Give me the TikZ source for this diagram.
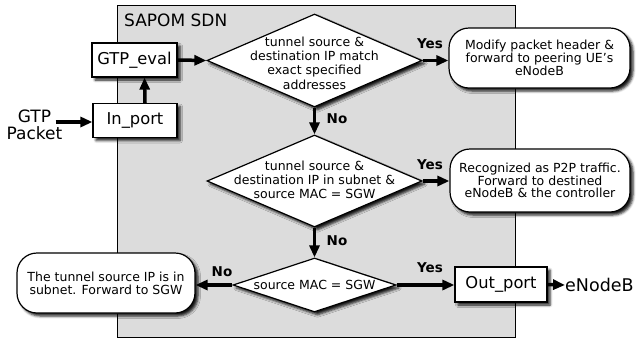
\documentclass[tikz,border=0pt]{standalone}
\usepackage{fontspec}
\setmainfont{DejaVu Sans}
\usetikzlibrary{shapes.geometric,arrows.meta,shadows.blur}
\definecolor{sdngray}{HTML}{DCDCDC}
\begin{document}
\begin{tikzpicture}[x=1pt,y=-1pt,
 shad/.style={blur shadow={shadow xshift=3pt,shadow yshift=-3pt,shadow blur radius=2.5pt,shadow opacity=90}},
 box/.style={draw,fill=white,line width=1.2pt,shad,inner sep=0pt,font=\fontsize{16.3}{19}\selectfont},
 rbox/.style={draw,fill=white,line width=1.2pt,shad,rounded corners=20pt,inner sep=0pt,align=center,font=\fontsize{12.5}{12.7}\selectfont},
 dia/.style={diamond,draw,fill=white,line width=1.2pt,shad,inner sep=0pt},
 dtext/.style={align=center,font=\fontsize{12.5}{14.3}\selectfont,inner sep=0pt},
 arr/.style={line width=3.5pt,-{Triangle[length=12pt,width=10pt]}},
 lab/.style={font=\bfseries\fontsize{13.5}{16}\selectfont,inner sep=0pt}
]
\useasboundingbox (0,0) rectangle (637,341);
\node[draw,fill=sdngray,line width=1.2pt,minimum width=398pt,minimum height=332pt,anchor=north west,inner sep=0pt] (sdn) at (117,5) {};
\node[anchor=west,font=\fontsize{17}{20}\selectfont,inner sep=0pt] (title) at (124,20) {SAPOM SDN};

\node[box,minimum width=85pt,minimum height=34pt] (eval) at (134.5,60) {GTP\_eval};
\node[box,minimum width=84pt,minimum height=34pt] (inport) at (135,120.5) {In\_port};
\node[align=center,font=\fontsize{17}{17}\selectfont,inner sep=0pt] (gtp) at (34.5,125) {GTP\\Packet};

\node[dia,minimum width=215pt,minimum height=93pt] (d1) at (314.5,60.5) {};
\node[dtext] (t1) at (314.5,63) {tunnel source \&\\destination IP match\\exact specified\\addresses};
\node[dia,minimum width=215pt,minimum height=92pt] (d2) at (314.5,181) {};
\node[dtext] (t2) at (314.5,180) {tunnel source \&\\destination IP in subnet \&\\source MAC = SGW};
\node[dia,minimum width=163pt,minimum height=54pt] (d3) at (314.5,285) {};
\node[dtext] (t3) at (314.5,285) {source MAC = SGW};

\node[rbox,minimum width=181pt,minimum height=60pt] (r1) at (539.5,58) {Modify packet header \&\\forward to peering UE’s\\eNodeB};
\node[rbox,minimum width=180pt,minimum height=63pt] (r2) at (540,180.5) {Recognized as P2P traffic.\\Forward to destined\\eNodeB \& the controller};
\node[rbox,minimum width=178pt,minimum height=60pt] (r3) at (106,283) {The tunnel source IP is in\\subnet. Forward to SGW};

\node[box,minimum width=92pt,minimum height=35pt] (out) at (501,284.5) {Out\_port};
\node[anchor=west,font=\fontsize{17.5}{20}\selectfont,inner sep=0pt] (enb) at (565,285) {eNodeB};

\draw[arr] ([xshift=-7pt]gtp.east |- 0,122) -- (inport.west |- 0,122);
\draw[arr] ([xshift=10pt]inport.north) -- ([xshift=10pt]eval.south);
\draw[arr] (eval.east) -- (d1.west);
\draw[arr] (d1.east) -- (d1.east -| r1.west);
\draw[arr] (d1.south) -- (d2.north);
\draw[arr] (d2.east) -- (d2.east -| r2.west);
\draw[arr] (d2.south) -- (d3.north);
\draw[arr] (d3.east) -- (d3.east -| out.west);
\draw[arr] (d3.west) -- (d3.west -| r3.east);
\draw[arr] (out.east) -- (enb.west);

\node[lab] (y1) at (430,44) {Yes};
\node[lab] (y2) at (430,165) {Yes};
\node[lab] (y3) at (430,268) {Yes};
\node[lab] (n1) at (337,119) {No};
\node[lab] (n2) at (337,241) {No};
\node[lab] (n3) at (222,272) {No};
\end{tikzpicture}
\end{document}
